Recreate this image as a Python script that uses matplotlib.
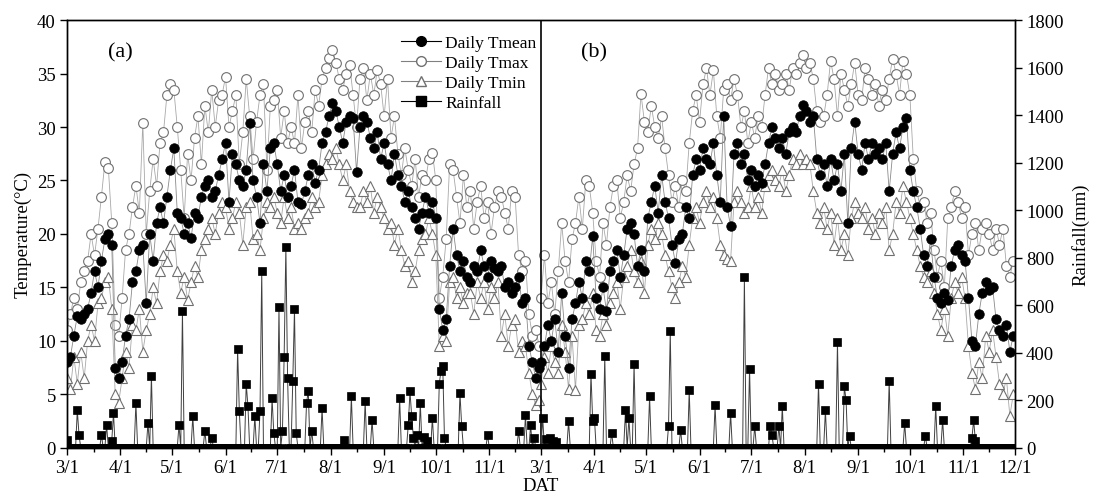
import matplotlib
matplotlib.use('Agg')
import matplotlib.pyplot as plt
from matplotlib.lines import Line2D
import numpy as np

plt.rcParams['font.family'] = ['Liberation Serif', 'DejaVu Serif']

# ---------------- data ----------------
# temperature values every second day, season (a) and season (b)
tmean_a = [8.0, 8.5, 10.5, 12.3, 12.0, 12.5, 13.0, 14.5, 16.5, 15.0,
           17.5, 19.5, 20.0, 19.0, 7.5, 6.5, 8.0, 10.5, 12.0, 15.5,
           16.5, 18.5, 19.0, 13.5, 20.0, 17.5, 21.0, 22.5, 21.0, 23.5,
           26.0, 28.0, 22.0, 21.5, 20.0, 21.0, 19.6, 22.0, 21.5, 23.5,
           24.5, 25.0, 23.5, 24.0, 25.5, 27.0, 28.5, 23.0, 27.5, 26.5,
           25.0, 24.5, 26.0, 30.4, 25.0, 23.5, 21.0, 26.5, 24.0, 28.0,
           28.5, 26.5, 24.0, 25.5, 23.5, 24.5, 26.0, 23.0, 22.8, 24.0,
           25.5, 26.5, 24.8, 26.0, 28.5, 29.5, 31.0, 32.2, 31.5, 30.0,
           28.5, 30.5, 31.0, 30.8, 25.8, 30.0, 31.0, 30.5, 29.0, 28.0,
           29.5, 27.0, 28.5, 26.5, 25.0, 27.5, 25.5, 24.5, 23.0, 24.0,
           22.5, 21.5, 20.5, 22.0, 23.5, 22.0, 23.0, 21.5, 13.0, 11.0,
           12.0, 17.0, 20.5, 18.0, 16.5, 17.5, 16.0, 15.5, 17.0, 16.5,
           18.5, 17.0, 16.0, 17.5, 16.8, 16.5, 17.0, 15.0, 15.5, 14.5,
           15.0, 16.0, 13.5, 14.0, 9.5, 8.0, 6.5, 7.5]
tmax_a = [11.0, 12.5, 14.0, 13.0, 15.5, 16.5, 17.5, 20.0, 18.0, 20.5,
          23.5, 26.7, 26.2, 21.0, 11.5, 10.5, 14.0, 18.5, 20.0, 22.5,
          24.5, 22.0, 30.4, 20.0, 24.0, 27.0, 24.5, 28.5, 29.5, 33.0,
          34.0, 33.5, 30.0, 26.0, 21.5, 27.5, 25.0, 29.0, 31.0, 26.5,
          32.0, 29.5, 33.5, 30.0, 32.5, 33.0, 34.7, 30.0, 31.5, 33.0,
          26.5, 29.5, 34.5, 31.0, 27.0, 30.5, 33.0, 34.0, 26.0, 32.0,
          32.5, 33.5, 29.0, 31.5, 28.5, 30.0, 28.5, 33.0, 28.0, 30.5,
          31.5, 29.5, 33.5, 32.0, 34.5, 35.5, 36.5, 37.2, 36.0, 34.5,
          33.5, 35.0, 35.8, 33.0, 30.0, 34.5, 35.5, 32.5, 35.0, 33.0,
          35.3, 34.0, 31.0, 34.5, 29.0, 31.0, 27.5, 25.5, 28.0, 26.0,
          24.5, 27.0, 23.5, 25.5, 25.0, 27.0, 27.6, 25.0, 14.0, 16.0,
          19.5, 26.5, 26.0, 23.5, 21.0, 25.5, 22.5, 24.0, 20.5, 23.0,
          24.5, 21.5, 23.0, 20.0, 22.5, 24.0, 23.5, 22.0, 20.5, 24.0,
          23.5, 18.0, 16.5, 17.5, 12.5, 10.5, 11.0, 9.5]
tmin_a = [6.5, 5.5, 8.5, 6.0, 9.0, 6.5, 10.0, 11.5, 10.0, 13.5,
          14.0, 15.5, 16.0, 13.0, 5.0, 4.2, 6.5, 9.0, 7.5, 11.5,
          11.0, 13.0, 9.0, 11.0, 12.5, 15.0, 13.5, 16.5, 18.0, 17.5,
          19.0, 20.5, 16.5, 14.5, 16.0, 13.8, 15.5, 17.0, 16.0, 18.5,
          19.5, 20.5, 21.5, 20.0, 22.0, 23.0, 22.5, 20.5, 21.5, 23.0,
          22.0, 19.0, 22.5, 23.0, 19.5, 20.0, 18.5, 21.5, 23.0, 22.5,
          23.5, 22.0, 21.0, 23.5, 21.5, 22.5, 20.5, 21.0, 20.5, 21.5,
          22.0, 23.5, 22.5, 23.0, 25.5, 26.5, 27.5, 27.0, 28.0, 26.5,
          25.0, 26.5, 24.0, 23.0, 22.5, 22.5, 24.0, 23.0, 24.5, 22.0,
          23.5, 22.5, 21.5, 20.5, 21.0, 19.0, 20.5, 18.5, 17.0, 17.5,
          15.5, 16.5, 18.5, 19.5, 20.0, 21.5, 20.0, 18.0, 9.5, 10.5,
          10.0, 15.5, 16.0, 14.0, 15.0, 13.5, 14.5, 14.5, 12.5, 15.5,
          14.0, 15.5, 13.0, 15.0, 14.0, 15.5, 10.5, 12.5, 9.5, 11.5,
          12.0, 9.0, 10.0, 9.5, 7.0, 5.0, 4.0, 4.5]

tmean_b = [8.0, 9.5, 11.5, 10.0, 12.0, 9.0, 14.5, 10.5, 7.5, 12.0,
           13.5, 15.5, 14.0, 17.5, 16.5, 19.8, 14.0, 13.0, 15.0, 12.8,
           16.5, 17.5, 18.5, 16.0, 18.0, 20.5, 21.0, 20.0, 17.0, 18.5,
           16.5, 21.5, 23.0, 24.5, 22.0, 25.5, 23.0, 21.5, 19.0, 17.3,
           19.5, 20.0, 22.5, 21.5, 25.5, 27.0, 26.0, 28.0, 27.0, 26.5,
           28.5, 25.5, 23.0, 31.0, 22.5, 20.7, 27.5, 28.5, 26.5, 27.5,
           25.0, 26.0, 24.5, 25.5, 24.8, 26.5, 28.5, 30.0, 29.0, 28.0,
           29.0, 27.5, 29.5, 30.0, 29.5, 31.0, 32.1, 31.5, 30.5, 31.0,
           27.0, 25.5, 26.5, 24.5, 27.0, 25.0, 26.5, 24.0, 27.5, 21.0,
           28.0, 30.5, 27.5, 26.0, 28.5, 27.0, 28.5, 27.5, 28.0, 27.0,
           28.5, 24.0, 27.5, 29.5, 28.0, 30.0, 30.8, 26.0, 24.0, 22.5,
           20.5, 18.0, 17.0, 19.5, 16.0, 14.0, 13.5, 14.5, 13.8, 17.0,
           18.5, 19.0, 18.0, 17.5, 14.0, 10.0, 9.5, 12.5, 14.5, 15.5,
           14.8, 15.0, 12.0, 11.0, 10.5, 11.5, 9.0, 10.5]
tmax_b = [14.0, 18.0, 13.5, 15.5, 12.5, 16.5, 21.0, 17.5, 15.5, 19.5,
          21.0, 23.5, 20.5, 25.0, 24.5, 22.0, 17.5, 16.0, 21.0, 19.0,
          22.5, 24.5, 25.0, 21.5, 23.0, 25.5, 24.0, 26.5, 28.0, 33.1,
          30.5, 29.5, 32.0, 30.0, 29.0, 31.0, 28.0, 25.5, 23.0, 24.5,
          22.5, 25.0, 24.0, 28.5, 31.5, 33.0, 30.5, 34.0, 35.5, 33.0,
          35.3, 31.0, 29.0, 33.5, 34.0, 32.5, 34.5, 33.0, 30.0, 31.5,
          28.5, 30.5, 29.0, 31.0, 30.0, 33.0, 35.5, 34.0, 35.0, 33.5,
          34.0, 35.0, 33.5, 35.5, 35.0, 36.0, 36.7, 35.5, 36.0, 34.5,
          31.5, 30.5, 31.0, 33.0, 36.2, 34.5, 31.0, 35.0, 33.5, 32.0,
          34.0, 36.0, 33.0, 32.5, 35.5, 34.5, 33.0, 34.0, 32.0, 33.5,
          32.5, 34.5, 36.4, 35.0, 33.0, 36.2, 35.0, 33.0, 27.0, 24.0,
          22.5, 23.0, 21.0, 22.0, 18.5, 16.0, 17.5, 15.0, 21.5, 22.5,
          24.0, 23.0, 21.5, 22.5, 18.0, 20.0, 21.0, 18.5, 20.5, 21.0,
          20.0, 18.5, 20.5, 19.0, 20.5, 17.0, 16.0, 17.5]
tmin_b = [6.0, 8.5, 7.0, 9.5, 8.0, 7.0, 11.5, 9.0, 5.5, 10.5,
          5.4, 11.5, 12.0, 13.5, 12.5, 14.5, 11.0, 10.5, 12.5, 11.5,
          13.5, 14.5, 15.5, 13.0, 16.0, 17.0, 18.5, 16.5, 15.5, 17.5,
          14.5, 19.0, 20.5, 19.5, 21.0, 20.0, 18.0, 16.5, 15.0, 14.0,
          15.5, 17.0, 16.0, 19.0, 21.5, 22.5, 21.0, 23.0, 24.0, 22.5,
          23.5, 21.5, 19.0, 18.0, 17.7, 17.5, 23.0, 24.0, 23.0, 22.0,
          22.5, 24.5, 22.5, 23.5, 22.0, 24.5, 25.5, 26.0, 25.0, 24.5,
          26.0, 24.0, 25.5, 27.0, 26.5, 27.5, 26.5, 27.0, 26.5, 24.0,
          22.0, 21.0, 22.5, 20.5, 22.0, 19.0, 21.5, 18.5, 20.0, 18.0,
          21.5, 23.0, 22.0, 21.5, 22.5, 20.5, 21.5, 20.0, 22.0, 21.0,
          22.5, 18.5, 20.0, 23.0, 22.0, 24.5, 23.0, 21.5, 20.0, 18.5,
          17.0, 16.0, 15.5, 16.5, 14.5, 12.5, 11.0, 13.0, 10.5, 14.0,
          15.5, 14.5, 16.0, 14.0, 9.5, 7.0, 5.5, 8.0, 6.5, 10.5,
          9.0, 11.0, 8.5, 6.0, 5.0, 6.5, 3.0, 5.0]

# rainfall events (day of season, mm); all other days are 0 mm
rain_a_day = [0, 6, 7, 20, 23, 26, 27, 40, 47, 49, 65, 67, 73, 80, 84,
              99, 100, 104, 105, 109, 112, 113, 119, 120, 123, 125, 126,
              127, 128, 131, 132, 133, 139, 140, 142, 148, 161, 165, 173,
              177, 193, 198, 199, 200, 201, 203, 205, 207, 209, 212, 216,
              217, 218, 219, 228, 229, 244, 262, 266, 269, 271]
rain_a_mm = [33, 158, 54, 54, 96, 30, 146, 188, 104, 304, 96, 575, 133,
             71, 42, 415, 154, 270, 175, 133, 154, 742, 208, 62, 592, 71,
             383, 846, 292, 279, 583, 62, 188, 240, 71, 167, 33, 216, 195,
             117, 208, 96, 237, 133, 40, 55, 188, 45, 30, 125, 270, 325,
             346, 42, 229, 92, 54, 71, 137, 96, 40]
rain_b_day = [1, 3, 5, 7, 9, 16, 29, 30, 31, 37, 41, 49, 51, 54, 63, 74,
              75, 81, 86, 101, 110, 118, 121, 124, 133, 134, 138, 140,
              161, 165, 172, 176, 177, 179, 202, 211, 223, 229, 233, 250,
              251, 252]
rain_b_mm = [125, 35, 40, 30, 25, 112, 312, 112, 125, 387, 62, 158, 125,
             354, 216, 92, 492, 75, 242, 179, 146, 717, 333, 92, 92, 54,
             92, 175, 270, 158, 446, 258, 200, 50, 283, 104, 50, 175, 117,
             40, 117, 30]

month_lengths = [31, 30, 31, 30, 31, 31, 30, 31, 30]   # Mar ... Nov
month_labels_a = ['3/1', '4/1', '5/1', '6/1', '7/1', '8/1', '9/1', '10/1', '11/1']
month_labels_b = ['3/1', '4/1', '5/1', '6/1', '7/1', '8/1', '9/1', '10/1', '11/1', '12/1']
season_len = sum(month_lengths)   # 275 days

# ---------------- build series ----------------
x_a = np.arange(0, season_len + 1, 2)[:len(tmean_a)]
x_b = season_len + np.arange(0, season_len + 1, 2)[:len(tmean_b)]

rain_a = np.zeros(season_len)
rain_a[rain_a_day] = rain_a_mm
rain_b = np.zeros(season_len)
rain_b[rain_b_day] = rain_b_mm
xr_a = np.arange(season_len)
xr_b = season_len + np.arange(season_len)

month_starts = np.concatenate([[0], np.cumsum(month_lengths)])
major_a = month_starts[:-1]
major_b = season_len + month_starts
majors = np.concatenate([major_a, major_b])
labels = month_labels_a + month_labels_b
minors = (majors[:-1] + majors[1:]) / 2.0

# ---------------- figure ----------------
fig = plt.figure(figsize=(10.94, 5.02), dpi=100)
ax = fig.add_axes([0.0612, 0.106, 0.8666, 0.852])
ax2 = ax.twinx()

line_grey = '#a8a8a8'
edge_grey = '#707070'

for xx, tx, tn, tm in [(x_a, tmax_a, tmin_a, tmean_a), (x_b, tmax_b, tmin_b, tmean_b)]:
    ax.plot(xx, tx, color=line_grey, lw=0.6, marker='o', ms=7.0,
            mfc='white', mec=edge_grey, mew=0.8, zorder=2)
    ax.plot(xx, tn, color=line_grey, lw=0.6, marker='^', ms=7.6,
            mfc='white', mec=edge_grey, mew=0.8, zorder=2)
    ax.plot(xx, tm, color='#8a8a8a', lw=0.6, marker='o', ms=6.8,
            mfc='black', mec='black', mew=0.6, zorder=3)

for xx, rr in [(xr_a, rain_a), (xr_b, rain_b)]:
    ax2.plot(xx, rr, color='#404040', lw=0.7, marker='s', ms=6.0,
             mfc='black', mec='black', mew=0.5, zorder=4)

ax.axvline(season_len, color='black', lw=1.2, zorder=5)

ax.set_xlim(0, 2 * season_len)
ax.set_ylim(0, 40)
ax2.set_ylim(0, 1800)
ax.set_yticks(np.arange(0, 41, 5))
ax2.set_yticks(np.arange(0, 1801, 200))
ax.set_xticks(majors)
ax.set_xticklabels(labels)
ax.set_xticks(minors, minor=True)

fs = 13.5
ax.tick_params(axis='both', which='major', direction='out', length=5, width=1, labelsize=fs, pad=3)
ax.tick_params(axis='x', which='minor', direction='out', length=3, width=1)
ax2.tick_params(axis='y', which='major', direction='out', length=5, width=1, labelsize=fs, pad=3)
for a in (ax, ax2):
    for s in a.spines.values():
        s.set_linewidth(1.0)

ax.set_ylabel('Temperature(\u00b0C)', fontsize=fs, labelpad=4)
ax2.set_ylabel('Rainfall(mm)', fontsize=fs, labelpad=6)
ax.set_xlabel('DAT', fontsize=fs, labelpad=1)

ax.text(24, 36.6, '(a)', fontsize=16)
ax.text(298, 36.6, '(b)', fontsize=16)

handles = [
    Line2D([], [], color='black', lw=0.8, marker='o', ms=7, mfc='black', mec='black'),
    Line2D([], [], color='#808080', lw=0.8, marker='o', ms=7, mfc='white', mec=edge_grey),
    Line2D([], [], color='#808080', lw=0.8, marker='^', ms=7.5, mfc='white', mec=edge_grey),
    Line2D([], [], color='black', lw=0.8, marker='s', ms=6.5, mfc='black', mec='black'),
]
leg = ax2.legend(handles, ['Daily Tmean', 'Daily Tmax', 'Daily Tmin', 'Rainfall'],
                 loc='upper left', bbox_to_anchor=(389 / 1094, 1 - 24 / 502),
                 bbox_transform=fig.transFigure, frameon=False, fontsize=12.5,
                 handlelength=2.3, handletextpad=0.25, labelspacing=0.22,
                 borderpad=0.2)
leg.set_zorder(10)

fig.savefig('out.png', dpi=100)
